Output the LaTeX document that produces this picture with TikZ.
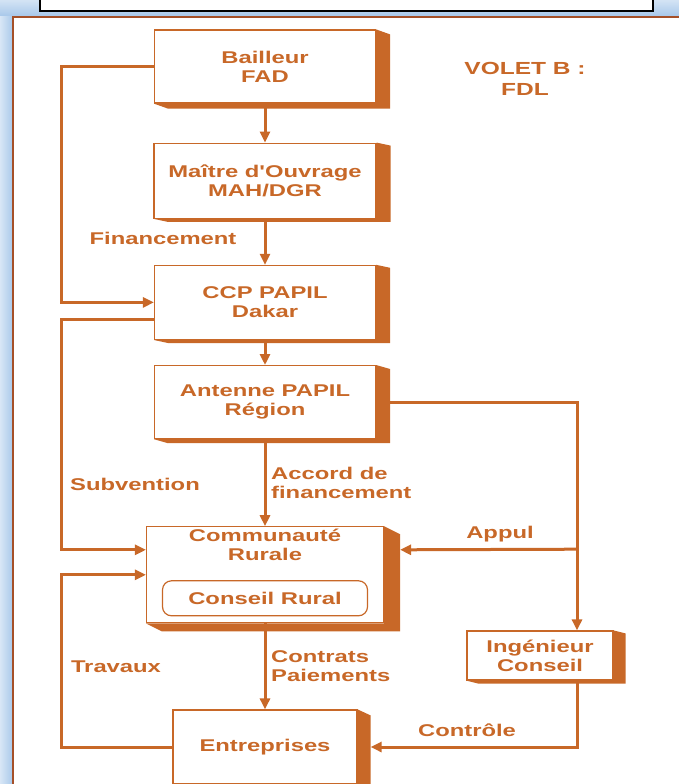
\documentclass[tikz,border=0pt]{standalone}
\usepackage{fontspec}
\newfontfamily\orgfont{Liberation Sans}[FakeStretch=1.4]
\usetikzlibrary{positioning,arrows.meta}
\definecolor{brn}{RGB}{200,104,40}
\definecolor{frm}{RGB}{165,80,40}
\definecolor{glow}{RGB}{168,200,234}
% extruded side of a box: node, depth right, depth down
\newcommand{\slab}[3]{\fill[brn] (#1.north east) -- ([shift={(#2,#3)}]#1.north east)
    -- ([shift={(#2,#3)}]#1.south east) -- ([shift={(#2,#3)}]#1.south west)
    -- (#1.south west) -- (#1.south east) -- cycle;}
\begin{document}
\begin{tikzpicture}[x=1pt, y=-1pt, >={Triangle[length=11pt,width=10pt]},
    box/.style={draw=brn, fill=white, line width=1.2pt, text=brn, align=center,
        font=\orgfont\bfseries\fontsize{17}{19}\selectfont, inner sep=2pt},
    lbl/.style={text=brn, font=\orgfont\bfseries\fontsize{17}{19}\selectfont, inner sep=1pt},
    link/.style={draw=brn, line width=3pt}]
    \useasboundingbox (0,0) rectangle (679,784);
    % frame
    \shade[left color=glow!45, right color=glow] (0,0) rectangle (13,784);
    \shade[top color=glow!50, bottom color=glow] (0,0) rectangle (679,16);
    \draw[line width=1.2pt, fill=white] (40,-3) rectangle (653,11);
    \draw[frm, line width=2.5pt] (13,790) -- (13,17) -- (685,17);

    \node[box, minimum width=221pt, minimum height=73pt] (bail) at (265,66.5) {Bailleur\\FAD};
    \node[box, minimum width=222pt, minimum height=75pt, below=39pt of bail] (moa) {Ma\^itre d'Ouvrage\\MAH/DGR};
    \node[box, minimum width=221pt, minimum height=74pt, below=46pt of moa] (ccp) {CCP PAPIL\\Dakar};
    \node[box, minimum width=221pt, minimum height=73pt, below=25pt of ccp] (ant) {Antenne PAPIL\\R\'egion};
    \node[box, minimum width=237pt, minimum height=96pt, below=87pt of ant,
        label={[lbl, align=center, below=2pt]north:{Communaut\'e\\Rurale}}] (cr) {};
    \node[box, rounded corners=9pt, minimum width=205pt, minimum height=35pt] (crl) at ([yshift=-23.5pt]cr.center) {Conseil Rural};
    \node[box, minimum width=184pt, minimum height=74pt, below=86pt of cr] (ent) {Entreprises};
    \node[box, minimum width=146pt, minimum height=49pt] (ing) at (540,655.5) {Ing\'enieur\\Conseil};

    \slab{bail}{14}{5} \slab{moa}{14}{3} \slab{ccp}{14}{3} \slab{ant}{14}{4}
    \slab{cr}{16}{8} \slab{ent}{13}{6} \slab{ing}{12}{3}

    \node[lbl, align=center, font=\orgfont\bfseries\fontsize{17.5}{21}\selectfont] (volet) at (525,79) {VOLET B :\\FDL};

    \draw[link, ->] (bail.south) -- (moa.north);
    \draw[link, ->] (moa.south) -- (ccp.north);
    \draw[link, ->] (ccp.south) -- (ant.north);
    \draw[link, ->] (ant.south) -- (cr.north);
    \draw[link, ->] (cr.south) -- (ent.north);

    \draw[link, ->] (bail.west) -- ++(-92,0) |- (ccp.west);
    \draw[link, ->] ([yshift=-17pt]ccp.west) -- ++(-92,0) |- ([yshift=25pt]cr.west);
    \draw[link, ->] (ent.west) -- ++(-111,0) |- (cr.west);
    \draw[link, ->] (ant.east) -| ([xshift=37pt]ing.north);
    \coordinate (tap) at ([xshift=37pt]ing.north |- cr.north);
    \draw[link, ->] ([yshift=-23pt]tap) -- ([xshift=16pt, yshift=25pt]cr.east);
    \draw[link, ->] ([xshift=37pt]ing.south) |- ([xshift=13pt]ent.east);

    \node[lbl] (fin) at (163,238) {Financement};
    \node[lbl] (sub) at (135,484) {Subvention};
    \node[lbl] (trv) at (116,667) {Travaux};
    \node[lbl, align=left, anchor=west] (acc) at (270,482.5) {Accord de\\financement};
    \node[lbl, align=left, anchor=west] (ctr) at (270,666.5) {Contrats\\Paiements};
    \node[lbl] (app) at (500,534) {Appul};
    \node[lbl] (ctl) at (467,730) {Contr\^ole};
\end{tikzpicture}
\end{document}
